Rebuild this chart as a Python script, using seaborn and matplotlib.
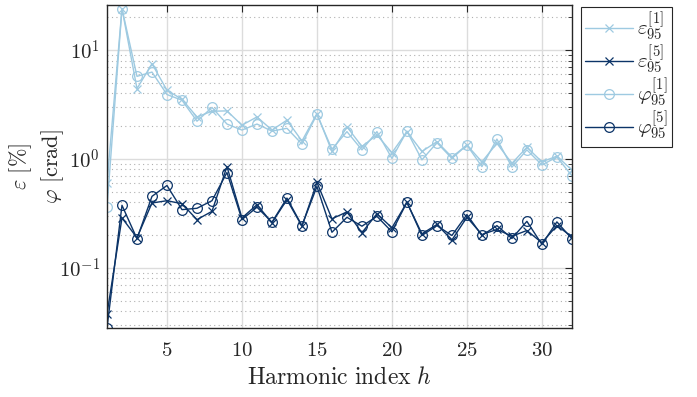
import numpy as np
import pandas as pd
import matplotlib
matplotlib.use("Agg")
import matplotlib.pyplot as plt
import seaborn as sns
from matplotlib.ticker import LogLocator, FixedLocator, NullFormatter

harmonics = list(range(1, 33))

eps_1 = [0.60, 24.0, 4.42, 7.48, 4.27, 3.53, 2.43, 2.74, 2.76, 2.04,
         2.43, 1.84, 2.27, 1.46, 2.61, 1.17, 1.97, 1.30, 1.66, 1.14,
         1.78, 1.17, 1.44, 1.04, 1.34, 0.94, 1.39, 0.91, 1.28, 0.94,
         1.06, 0.79]
eps_5 = [0.0376, 0.287, 0.189, 0.394, 0.413, 0.388, 0.277, 0.330, 0.85, 0.287,
         0.38, 0.259, 0.422, 0.241, 0.608, 0.282, 0.326, 0.210, 0.314, 0.233,
         0.399, 0.205, 0.25, 0.18, 0.291, 0.202, 0.225, 0.195, 0.220, 0.170,
         0.244, 0.193]
phi_1 = [0.36, 24.0, 5.73, 6.27, 3.90, 3.46, 2.22, 2.97, 2.09, 1.84,
         2.09, 1.80, 1.91, 1.37, 2.56, 1.23, 1.78, 1.21, 1.78, 1.01,
         1.80, 0.98, 1.41, 1.01, 1.34, 0.85, 1.52, 0.84, 1.21, 0.88,
         1.04, 0.70]
phi_5 = [0.028, 0.375, 0.185, 0.453, 0.570, 0.342, 0.352, 0.413, 0.75, 0.277,
         0.36, 0.262, 0.437, 0.244, 0.558, 0.212, 0.291, 0.241, 0.297, 0.214,
         0.40, 0.198, 0.244, 0.198, 0.308, 0.198, 0.244, 0.186, 0.267, 0.164,
         0.264, 0.185]

x_ticks = [5, 10, 15, 20, 25, 30]
y_ticks = [0.1, 1, 10]
y_tick_labels = [r"$10^{-1}$", r"$10^{0}$", r"$10^{1}$"]

labels = [r"$\varepsilon_{95}^{[1]}$", r"$\varepsilon_{95}^{[5]}$",
          r"$\varphi_{95}^{[1]}$", r"$\varphi_{95}^{[5]}$"]

light = "#9ecae1"
dark = "#0c3468"
ink = "#262626"

sns.set_theme(style="white")
plt.rcParams["mathtext.fontset"] = "cm"
plt.rcParams["font.family"] = ["DejaVu Serif"]

fig = plt.figure(figsize=(6.97, 3.97), dpi=100)
ax = fig.add_axes([0.1535, 0.1738, 0.667, 0.8136])

series = [
    (eps_1, light, "x"),
    (eps_5, dark, "x"),
    (phi_1, light, "o"),
    (phi_5, dark, "o"),
]
for (vals, col, mk), lab in zip(series, labels):
    df = pd.DataFrame({"h": harmonics, "v": vals})
    sns.lineplot(data=df, x="h", y="v", ax=ax, color=col, marker=mk,
                 markerfacecolor="none", markeredgecolor=col,
                 markersize=7 if mk == "o" else 5.5,
                 markeredgewidth=0.9, linewidth=1.0, label=lab)

ax.set_yscale("log")
ax.set_xlim(1, 32)
ax.set_ylim(0.028, 25.9)
ax.set_xticks(x_ticks)
ax.set_xticklabels([rf"${v}$" for v in x_ticks])
ax.yaxis.set_major_locator(FixedLocator(y_ticks))
ax.set_yticklabels(y_tick_labels)
ax.yaxis.set_minor_locator(LogLocator(base=10, subs=np.arange(2, 10), numticks=20))
ax.yaxis.set_minor_formatter(NullFormatter())

ax.grid(True, which="major", axis="both", color="#dcdcdc", linewidth=1.0, linestyle="-")
ax.grid(True, which="minor", axis="y", color="#b0b0b0", linewidth=0.8, linestyle=(0, (1, 3)))
ax.set_axisbelow(True)

ax.tick_params(axis="both", which="both", direction="in", top=True, right=True,
               labelsize=15, colors=ink)
ax.tick_params(which="major", length=5, width=0.8)
ax.tick_params(which="minor", length=3, width=0.6)
ax.tick_params(axis="y", which="major", pad=5)
ax.tick_params(axis="x", which="major", pad=9)
for sp in ax.spines.values():
    sp.set_color(ink)
    sp.set_linewidth(1.0)

ax.set_xlabel(r"$\mathrm{Harmonic\ index}\ h$", fontsize=17, labelpad=5, color=ink)
ax.set_ylabel(r"$\varepsilon\ [\%]$" + "\n" + r"$\varphi\ [\mathrm{crad}]$",
              fontsize=16, color=ink, linespacing=1.3)
ax.yaxis.set_label_coords(-0.088, 0.5)

leg = ax.legend(loc="upper left", bbox_to_anchor=(1.02, 0.995), fontsize=15,
                frameon=True, fancybox=False, framealpha=1, edgecolor=ink,
                borderpad=0.2, labelspacing=0.0, handlelength=2.3, handletextpad=0.2,
                borderaxespad=0.0)
leg.get_frame().set_linewidth(0.8)

fig.savefig("out.png", dpi=100)
